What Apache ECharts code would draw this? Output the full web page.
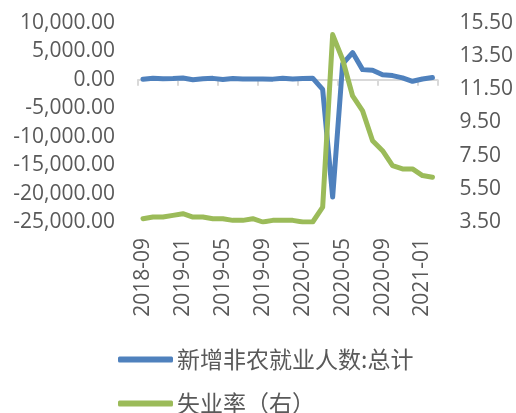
<!DOCTYPE html>
<html>
<head>
<meta charset="utf-8">
<script src="https://cdn.jsdelivr.net/npm/echarts@6/dist/echarts.min.js"></script>
<style>
  html, body { margin: 0; padding: 0; background: #fff; }
  #chart { width: 516px; height: 413px; }
</style>
</head>
<body>
<div id="chart"></div>
<script>
// Monthly categories, 2018-09 .. 2021-02
const months = [
  '2018-09','2018-10','2018-11','2018-12',
  '2019-01','2019-02','2019-03','2019-04','2019-05','2019-06','2019-07','2019-08','2019-09','2019-10','2019-11','2019-12',
  '2020-01','2020-02','2020-03','2020-04','2020-05','2020-06','2020-07','2020-08','2020-09','2020-10','2020-11','2020-12',
  '2021-01','2021-02'
];

// Nonfarm payrolls change (thousands), left axis
const payrolls = [
  108, 277, 196, 227,
  312, 20, 189, 263, 75, 224, 164, 130, 136, 128, 266, 145,
  225, 300, -1680, -20600, 2800, 4800, 1800, 1700, 900, 750, 350, -250,
  150, 400
];

// Unemployment rate (%), right axis
const unemployment = [
  3.7, 3.8, 3.8, 3.9,
  4.0, 3.8, 3.8, 3.7, 3.7, 3.6, 3.6, 3.7, 3.5, 3.6, 3.6, 3.6,
  3.5, 3.5, 4.4, 14.8, 13.3, 11.1, 10.2, 8.4, 7.8, 6.9, 6.7, 6.7,
  6.3, 6.2
];

const seriesNames = ['新增非农就业人数:总计', '失业率（右）'];

const labelColor = '#595959';
const fontFamily = '"Open Sans", "Noto Sans CJK SC", sans-serif';
const axisFontSize = 21;

const fmtThousands = v => v.toLocaleString('en-US', { minimumFractionDigits: 2, maximumFractionDigits: 2 });

const chart = echarts.init(document.getElementById('chart'), null, { renderer: 'canvas' });

// one legend block per series, stacked vertically
const legendBase = {
  left: 113,
  itemWidth: 55,
  itemHeight: 6,
  itemGap: 4,
  icon: 'roundRect',
  textStyle: { fontSize: 23, color: labelColor, fontFamily: '"Noto Sans CJK SC", sans-serif', padding: [0, 0, 0, -1] }
};

chart.setOption({
  animation: false,
  textStyle: { fontFamily: fontFamily },
  grid: { left: 138, right: 78, top: 23, height: 199, containLabel: false },
  legend: [
    Object.assign({}, legendBase, { top: 343, data: [seriesNames[0]] }),
    Object.assign({}, legendBase, { top: 387, data: [seriesNames[1]] })
  ],
  xAxis: [
    {
      // baseline through zero with tick marks
      type: 'category',
      data: months,
      boundaryGap: true,
      axisLine: { show: true, onZero: true, lineStyle: { color: '#d9d9d9', width: 2 } },
      axisTick: { show: true, interval: 3, length: 6, lineStyle: { color: '#d9d9d9', width: 2 } },
      axisLabel: { show: false },
      splitLine: { show: false }
    },
    {
      // date labels along the bottom of the plot
      type: 'category',
      data: months,
      position: 'bottom',
      boundaryGap: true,
      axisLine: { show: false, onZero: false },
      axisTick: { show: false },
      axisLabel: {
        show: true,
        interval: 3,
        rotate: 90,
        margin: 16,
        fontSize: axisFontSize,
        color: labelColor
      },
      splitLine: { show: false }
    }
  ],
  yAxis: [
    {
      type: 'value',
      min: -25000,
      max: 10000,
      interval: 5000,
      axisLine: { show: false },
      axisTick: { show: false },
      splitLine: { show: false },
      axisLabel: { fontSize: axisFontSize, color: labelColor, margin: 23, formatter: fmtThousands }
    },
    {
      type: 'value',
      min: 3.5,
      max: 15.5,
      interval: 2,
      position: 'right',
      axisLine: { show: false },
      axisTick: { show: false },
      splitLine: { show: false },
      axisLabel: { fontSize: axisFontSize, color: labelColor, margin: 22, formatter: v => v.toFixed(2) }
    }
  ],
  series: [
    {
      name: seriesNames[0],
      type: 'line',
      xAxisIndex: 0,
      yAxisIndex: 0,
      data: payrolls,
      showSymbol: false,
      symbol: 'none',
      lineStyle: { color: '#4F81BD', width: 5, cap: 'round', join: 'round' },
      itemStyle: { color: '#4F81BD' }
    },
    {
      name: seriesNames[1],
      type: 'line',
      xAxisIndex: 0,
      yAxisIndex: 1,
      data: unemployment,
      showSymbol: false,
      symbol: 'none',
      lineStyle: { color: '#9BBB59', width: 5, cap: 'round', join: 'round' },
      itemStyle: { color: '#9BBB59' }
    }
  ]
});
</script>
</body>
</html>
